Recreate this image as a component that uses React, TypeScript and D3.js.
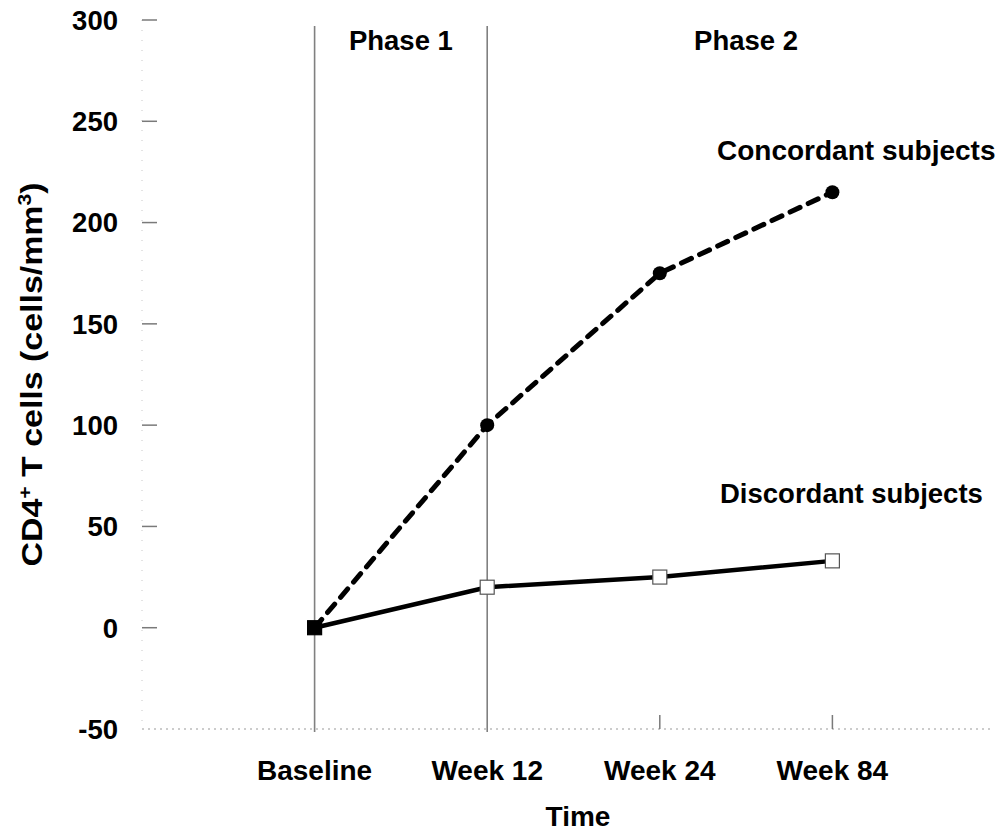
import React from "react";
import * as d3 from "d3";

// Time points on the x axis
const timepoints = ["Baseline", "Week 12", "Week 24", "Week 84"];
// Change in CD4+ T cells from baseline (cells/mm3)
const concordant = [0, 100, 175, 215];
const discordant = [0, 20, 25, 33];
// Y axis tick values
const yTicks = [-50, 0, 50, 100, 150, 200, 250, 300];
// Phase labels, each centred between two timepoints
const phases = [
  { label: "Phase 1", from: 0, to: 1 },
  { label: "Phase 2", from: 2, to: 3 },
];
// Boundaries drawn as full-height vertical rules
const phaseBoundaries = [0, 1];

const W = 1004;
const H = 832;
const FONT = "'Liberation Sans', Arial, Helvetica, sans-serif";

export default function App() {
  // index 0..3 placed at positions 1..4 of a 0..5 slot axis
  const x = d3.scaleLinear().domain([0, 5]).range([142, 1005]);
  const xi = (i: number) => x(i + 1);
  const y = d3.scaleLinear().domain([-50, 300]).range([729, 20]);

  const line = d3
    .line<number>()
    .x((_, i) => xi(i))
    .y((d) => y(d));

  const axisColor = "#7a7a7a";

  return (
    <svg
      width={W}
      height={H}
      style={{ position: "absolute", left: 0, top: 0, background: "#fff" }}
      fontFamily={FONT}
      fontWeight="bold"
    >
      <rect x={0} y={0} width={W} height={H} fill="#fff" />

      {/* faint y axis */}
      <line
        x1={x(0)}
        x2={x(0)}
        y1={y(300)}
        y2={y(-50)}
        stroke="#c8c8c8"
        strokeWidth={1}
        strokeDasharray="1 9"
      />
      {/* y ticks and labels */}
      {yTicks.map((t) => (
        <g key={t}>
          <line
            x1={x(0)}
            x2={x(0) + 15}
            y1={y(t)}
            y2={y(t)}
            stroke={t === -50 ? "none" : axisColor}
            strokeWidth={1.5}
          />
          <text
            x={118}
            y={y(t)}
            dy="0.36em"
            textAnchor="end"
            fontSize={27.5}
            fill="#000"
          >
            {t}
          </text>
        </g>
      ))}

      {/* x axis */}
      <line
        x1={x(0)}
        x2={993}
        y1={y(-50)}
        y2={y(-50)}
        stroke="#9a9a9a"
        strokeWidth={1.2}
        strokeDasharray="2 4"
      />
      {timepoints.map((t, i) =>
        phaseBoundaries.includes(i) ? null : (
          <line
            key={t}
            x1={xi(i)}
            x2={xi(i)}
            y1={y(-50) - 14}
            y2={y(-50)}
            stroke={axisColor}
            strokeWidth={1.5}
          />
        )
      )}
      {timepoints.map((t, i) => (
        <text
          key={t}
          x={xi(i)}
          y={780}
          textAnchor="middle"
          fontSize={28}
          fill="#000"
        >
          {t}
        </text>
      ))}
      <text x={578} y={826} textAnchor="middle" fontSize={28} fill="#000">
        Time
      </text>

      {/* y axis title */}
      <text
        transform={`translate(42, ${(y(300) + y(-50)) / 2}) rotate(-90) scale(1.17, 1)`}
        textAnchor="middle"
        fontSize={29}
        fill="#000"
      >
        CD4
        <tspan fontSize={18} dy={-11}>+</tspan>
        <tspan dy={11}> T cells (cells/mm</tspan>
        <tspan fontSize={18} dy={-11}>3</tspan>
        <tspan dy={11}>)</tspan>
      </text>

      {/* phase boundaries */}
      {phaseBoundaries.map((i) => (
        <line
          key={i}
          x1={xi(i)}
          x2={xi(i)}
          y1={26}
          y2={y(-50) + 3}
          stroke="#808080"
          strokeWidth={1.6}
        />
      ))}
      {phases.map((p) => (
        <text
          key={p.label}
          x={(xi(p.from) + xi(p.to)) / 2}
          y={50}
          textAnchor="middle"
          fontSize={27.5}
          fill="#000"
        >
          {p.label}
        </text>
      ))}

      {/* series lines */}
      <path
        d={line(discordant) ?? ""}
        fill="none"
        stroke="#000"
        strokeWidth={4.5}
      />
      <path
        d={line(concordant) ?? ""}
        fill="none"
        stroke="#000"
        strokeWidth={5}
        strokeDasharray="11 9"
        strokeLinecap="round"
      />

      {/* discordant markers: open squares, solid where both series coincide */}
      {discordant.map((v, i) => {
        const shared = v === concordant[i];
        return (
          <rect
            key={i}
            x={xi(i) - 7}
            y={y(v) - 7}
            width={14}
            height={14}
            fill={shared ? "#000" : "#fff"}
            stroke={shared ? "#000" : "#555"}
            strokeWidth={1.2}
          />
        );
      })}
      {/* concordant markers: filled circles */}
      {concordant.map((v, i) =>
        v === discordant[i] ? null : (
          <circle key={i} cx={xi(i)} cy={y(v)} r={7} fill="#000" />
        )
      )}

      {/* series labels */}
      <text x={717} y={160} fontSize={28} fill="#000">
        Concordant subjects
      </text>
      <text x={720} y={503} fontSize={27.5} fill="#000">
        Discordant subjects
      </text>
    </svg>
  );
}
